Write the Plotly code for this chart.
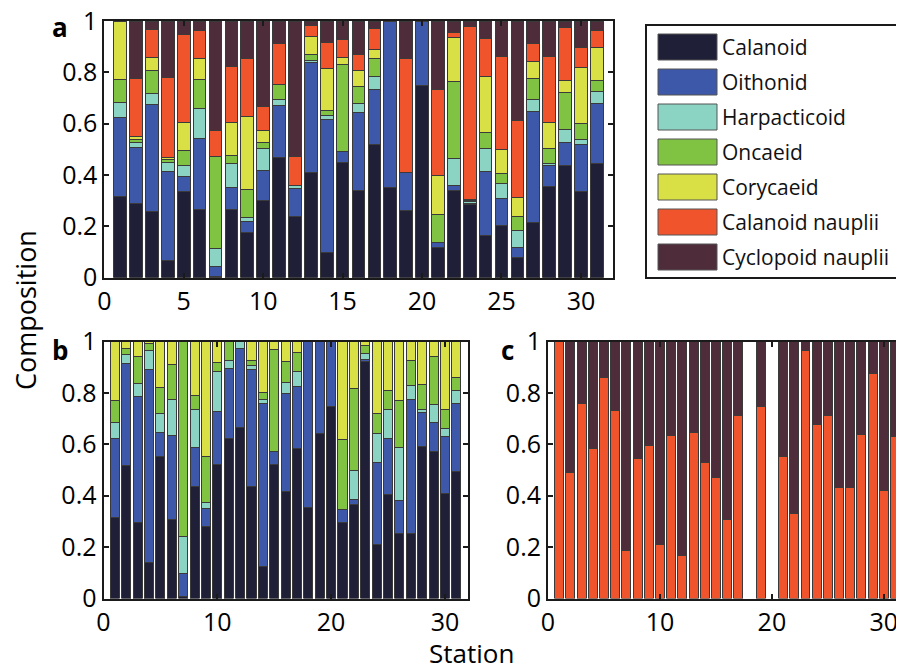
import plotly.graph_objects as go

W, H = 904, 667
stations = list(range(1, 32))
groups = ["Calanoid", "Oithonid", "Harpacticoid", "Oncaeid", "Corycaeid",
          "Calanoid nauplii", "Cyclopoid nauplii"]
colors = ["#1f1f38", "#3d58a8", "#8bd3c2", "#80c242", "#d9e045", "#f0542c", "#4e2c3a"]

# ---- panel a (all groups) ----
a_calanoid = [0.318, 0.291, 0.256, 0.066, 0.335, 0.264, 0.005, 0.264, 0.178, 0.300, 0.468, 0.240, 0.408, 0.100, 0.449, 0.339,
              0.517, 0.353, 0.261, 0.747, 0.117, 0.340, 0.287, 0.165, 0.203, 0.078, 0.214, 0.357, 0.439, 0.335, 0.445]
a_oithonid = [0.307, 0.217, 0.417, 0.347, 0.059, 0.280, 0.040, 0.088, 0.041, 0.116, 0.203, 0.108, 0.432, 0.517, 0.042, 0.305,
              0.218, 0.647, 0.147, 0.253, 0.019, 0.021, 0.003, 0.249, 0.106, 0.040, 0.435, 0.082, 0.087, 0.182, 0.234]
a_harpacticoid = [0.059, 0.018, 0.044, 0.035, 0.044, 0.116, 0.068, 0.093, 0.016, 0.088, 0.024, 0.010, 0.008, 0.013, 0.0, 0.034,
                  0.048, 0.0, 0.0, 0.0, 0.0, 0.104, 0.006, 0.090, 0.059, 0.065, 0.046, 0.006, 0.052, 0.022, 0.046]
a_oncaeid = [0.089, 0.012, 0.091, 0.012, 0.058, 0.113, 0.361, 0.032, 0.110, 0.022, 0.057, 0.0, 0.020, 0.023, 0.338, 0.067,
             0.069, 0.0, 0.0, 0.0, 0.109, 0.299, 0.006, 0.060, 0.038, 0.055, 0.082, 0.059, 0.144, 0.060, 0.043]
a_corycaeid = [0.227, 0.014, 0.050, 0.007, 0.109, 0.082, 0.0, 0.128, 0.284, 0.047, 0.0, 0.0, 0.071, 0.163, 0.028, 0.063,
               0.038, 0.0, 0.0, 0.0, 0.154, 0.171, 0.003, 0.220, 0.095, 0.075, 0.065, 0.101, 0.046, 0.219, 0.128]
a_cal_nauplii = [0.0, 0.225, 0.110, 0.312, 0.343, 0.107, 0.099, 0.217, 0.223, 0.092, 0.160, 0.113, 0.043, 0.100, 0.072, 0.061,
                 0.080, 0.0, 0.444, 0.0, 0.336, 0.021, 0.673, 0.147, 0.360, 0.300, 0.070, 0.256, 0.206, 0.078, 0.066]
a_cyc_nauplii = [0.0, 0.223, 0.032, 0.221, 0.052, 0.038, 0.427, 0.178, 0.148, 0.335, 0.088, 0.529, 0.018, 0.084, 0.071, 0.131,
                 0.030, 0.0, 0.148, 0.0, 0.265, 0.044, 0.022, 0.069, 0.139, 0.387, 0.088, 0.139, 0.026, 0.104, 0.038]

# ---- panel b (adults only) ----
b_calanoid = [0.316, 0.519, 0.296, 0.140, 0.551, 0.308, 0.009, 0.435, 0.282, 0.522, 0.622, 0.666, 0.435, 0.123, 0.523, 0.418,
              0.582, 0.353, 0.643, 0.747, 0.296, 0.365, 0.922, 0.210, 0.406, 0.253, 0.253, 0.591, 0.571, 0.409, 0.496]
b_oithonid = [0.307, 0.395, 0.490, 0.751, 0.096, 0.327, 0.090, 0.151, 0.070, 0.205, 0.274, 0.305, 0.457, 0.634, 0.050, 0.381,
              0.243, 0.647, 0.357, 0.253, 0.051, 0.022, 0.009, 0.319, 0.215, 0.130, 0.522, 0.134, 0.113, 0.223, 0.264]
b_harpacticoid = [0.063, 0.034, 0.052, 0.075, 0.072, 0.139, 0.141, 0.148, 0.022, 0.155, 0.030, 0.029, 0.013, 0.018, 0.0, 0.043,
                  0.057, 0.0, 0.0, 0.0, 0.0, 0.110, 0.024, 0.113, 0.115, 0.205, 0.054, 0.009, 0.069, 0.028, 0.049]
b_oncaeid = [0.084, 0.026, 0.105, 0.026, 0.103, 0.135, 0.760, 0.057, 0.178, 0.037, 0.074, 0.0, 0.021, 0.028, 0.395, 0.080,
             0.076, 0.0, 0.0, 0.0, 0.270, 0.321, 0.028, 0.079, 0.074, 0.182, 0.097, 0.100, 0.189, 0.076, 0.051]
b_corycaeid = [0.230, 0.026, 0.057, 0.008, 0.178, 0.091, 0.0, 0.209, 0.448, 0.081, 0.0, 0.0, 0.074, 0.197, 0.032, 0.078,
               0.042, 0.0, 0.0, 0.0, 0.383, 0.182, 0.017, 0.279, 0.190, 0.230, 0.074, 0.166, 0.058, 0.264, 0.140]

# ---- panel c (nauplii only; stations 18 and 20 missing) ----
c_cal_nauplii = [1.0, 0.49, 0.757, 0.584, 0.86, 0.73, 0.187, 0.545, 0.596, 0.209, 0.634, 0.166, 0.645, 0.531, 0.471, 0.306,
                 0.712, None, 0.747, None, 0.553, 0.33, 0.965, 0.678, 0.714, 0.431, 0.431, 0.64, 0.877, 0.421, 0.63]
c_cyc_nauplii = [0.0, 0.51, 0.243, 0.416, 0.14, 0.27, 0.813, 0.455, 0.404, 0.791, 0.366, 0.834, 0.355, 0.469, 0.529, 0.694,
                 0.288, None, 0.253, None, 0.447, 0.67, 0.035, 0.322, 0.286, 0.569, 0.569, 0.36, 0.123, 0.579, 0.37]

y_ticks = [0, 0.2, 0.4, 0.6, 0.8, 1]
y_ticktext = ["0", "0.2", "0.4", "0.6", "0.8", "1"]

FONT = "Open Sans"
EDGE = "#3a3a3a"

fig = go.Figure()

panel_a = [a_calanoid, a_oithonid, a_harpacticoid, a_oncaeid, a_corycaeid, a_cal_nauplii, a_cyc_nauplii]
for name, col, vals in zip(groups, colors, panel_a):
    fig.add_trace(go.Bar(x=stations, y=vals, name=name, marker=dict(color=col, line=dict(color=EDGE, width=1)),
                         width=0.8, xaxis="x", yaxis="y", showlegend=False))

panel_b = [b_calanoid, b_oithonid, b_harpacticoid, b_oncaeid, b_corycaeid]
for name, col, vals in zip(groups[:5], colors[:5], panel_b):
    fig.add_trace(go.Bar(x=stations, y=vals, name=name, marker=dict(color=col, line=dict(color=EDGE, width=1)),
                         width=0.8, xaxis="x2", yaxis="y2", showlegend=False))

panel_c = [c_cal_nauplii, c_cyc_nauplii]
for name, col, vals in zip(groups[5:], colors[5:], panel_c):
    fig.add_trace(go.Bar(x=stations, y=vals, name=name, marker=dict(color=col, line=dict(color=EDGE, width=1)),
                         width=0.8, xaxis="x3", yaxis="y3", showlegend=False))

# page body margin offset (screen px -> figure px)
OFF = 8


def px_x(p):
    return (p - OFF) / W


def px_y(p):
    return 1 - (p - OFF) / H


axis_common = dict(showline=True, linecolor="#1a1a1a", linewidth=2, mirror="ticks", ticks="inside",
                   ticklen=5, tickwidth=1.5, tickcolor="#1a1a1a", showgrid=False, zeroline=False,
                   automargin=False, ticklabeloverflow="allow",
                   tickfont=dict(size=25, color="black", family=FONT), fixedrange=True)

fig.update_layout(
    width=W, height=H, barmode="stack", bargap=0.2,
    margin=dict(l=0, r=0, t=0, b=0, autoexpand=False),
    paper_bgcolor="white", plot_bgcolor="white",
    font=dict(family=FONT, color="black"),
    xaxis=dict(domain=[px_x(104.3), px_x(612.7)], range=[0, 32], tickvals=[0, 5, 10, 15, 20, 25, 30],
               anchor="y", **axis_common),
    yaxis=dict(domain=[px_y(277.7), px_y(21)], range=[0, 1], tickvals=y_ticks, ticktext=y_ticktext,
               anchor="x", **axis_common),
    xaxis2=dict(domain=[px_x(103.5), px_x(467.7)], range=[0, 32], tickvals=[0, 10, 20, 30],
                anchor="y2", **axis_common),
    yaxis2=dict(domain=[px_y(598.5), px_y(341.5)], range=[0, 1], tickvals=y_ticks, ticktext=y_ticktext,
                anchor="x2", **axis_common),
    xaxis3=dict(domain=[px_x(548), px_x(904)], range=[0, 31.8], tickvals=[0, 10, 20, 30],
                anchor="y3", **axis_common),
    yaxis3=dict(domain=[px_y(598.5), px_y(341.5)], range=[0, 1], tickvals=y_ticks, ticktext=y_ticktext,
                anchor="x3", **axis_common),
)

shapes = []
annotations = []

# custom legend box
shapes.append(dict(type="rect", xref="paper", yref="paper", x0=px_x(646), x1=px_x(903),
                   y0=px_y(278), y1=px_y(25), line=dict(color="#1a1a1a", width=2), fillcolor="white"))
for i, (name, col) in enumerate(zip(groups, colors)):
    top = 34 + 35 * i
    shapes.append(dict(type="rect", xref="paper", yref="paper", x0=px_x(658), x1=px_x(717),
                       y0=px_y(top + 26), y1=px_y(top), line=dict(color="#555", width=1), fillcolor=col))
    annotations.append(dict(xref="paper", yref="paper", x=px_x(720), y=px_y(top + 13), text=name,
                            showarrow=False, xanchor="left", yanchor="middle",
                            font=dict(size=21, family=FONT, color="#111")))

# panel letters
for letter, xx, yy in [("a", 60, 27), ("b", 60, 350), ("c", 507, 350)]:
    annotations.append(dict(xref="paper", yref="paper", x=px_x(xx), y=px_y(yy), text="<b>%s</b>" % letter,
                            showarrow=False, xanchor="center", yanchor="middle",
                            font=dict(size=26, family=FONT, color="black")))

# axis titles
annotations.append(dict(xref="paper", yref="paper", x=px_x(25), y=px_y(310), text="Composition",
                        showarrow=False, textangle=-90, xanchor="center", yanchor="middle",
                        font=dict(size=27, family=FONT, color="black")))
annotations.append(dict(xref="paper", yref="paper", x=px_x(471), y=px_y(653), text="Station",
                        showarrow=False, xanchor="center", yanchor="middle",
                        font=dict(size=26, family=FONT, color="black")))

fig.update_layout(shapes=shapes, annotations=annotations)

fig.write_html("out.html")
